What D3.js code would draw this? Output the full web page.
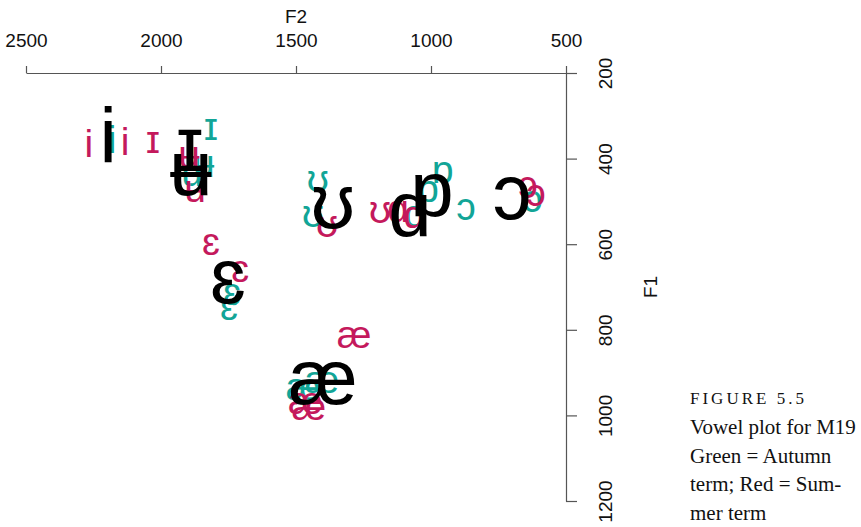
<!DOCTYPE html>
<html>
<head>
<meta charset="utf-8">
<script src="https://cdn.jsdelivr.net/npm/d3@7"></script>
<style>
  body { margin: 0; background: #fff; }
  svg { display: block; }
</style>
</head>
<body>
<div id="chart"></div>
<script>
// tick values
var f2Ticks = [2500, 2000, 1500, 1000, 500];
var f1Ticks = [200, 400, 600, 800, 1000, 1200];

// Autumn term tokens (green)
var autumnVowel = ["i", "ɪ", "ʉ", "ʉ", "ʊ", "ʊ", "ɒ", "ɒ", "ɑ", "ɔ", "ɔ", "ɛ", "ɛ", "æ", "æ"];
var autumnF2 = [2181, 1815, 1841, 1885, 1419, 1437, 956, 1011, 1059, 870, 622, 1737, 1748, 1404, 1474];
var autumnF1 = [363, 332, 419, 440, 454, 536, 433, 477, 536, 519, 501, 718, 753, 924, 940];

// Summer term tokens (red)
var summerVowel = ["i", "i", "ɪ", "ʉ", "ʉ", "ʊ", "ʊ", "ɑ", "ɑ", "ɔ", "ɔ", "ɛ", "ɛ", "æ", "æ", "æ"];
var summerF2 = [2267, 2133, 2030, 1896, 1874, 1385, 1189, 1122, 1063, 641, 611, 1815, 1707, 1285, 1465, 1452];
var summerF1 = [372, 368, 363, 398, 477, 559, 526, 524, 538, 468, 487, 601, 664, 818, 972, 985];

// means (black)
var meanVowel = ["i", "ɪ", "ʉ", "ʊ", "ɑ", "ɒ", "ɔ", "ɛ", "æ"];
var meanF2 = [2196, 1893, 1889, 1363, 1078, 996, 700, 1752, 1400];
var meanF1 = [362, 379, 437, 514, 531, 484, 491, 689, 923];

var captionLines = ["Vowel plot for M19", "Green = Autumn", "term; Red = Sum-", "mer term"];

var width = 861, height = 527;
var svg = d3.select("#chart").append("svg")
    .attr("width", width)
    .attr("height", height);

var x = d3.scaleLinear().domain([2500, 500]).range([26, 566]);
var y = d3.scaleLinear().domain([200, 1200]).range([73, 501]);

var axisCol = "#555";
var sans = "Liberation Sans, Arial, sans-serif";

// top axis (F2)
var gx = svg.append("g")
    .attr("transform", "translate(0,73)")
    .call(d3.axisTop(x).tickValues(f2Ticks).tickSize(7).tickSizeOuter(0).tickFormat(d3.format("d")));
gx.select(".domain").attr("stroke", axisCol).attr("stroke-width", 1.2);
gx.selectAll(".tick line").attr("stroke", axisCol).attr("stroke-width", 1.2);
gx.selectAll(".tick text")
    .attr("y", -26).attr("dy", 0)
    .attr("font-family", sans)
    .attr("font-size", 19).attr("fill", "#111");

svg.append("text")
    .attr("x", x(1500)).attr("y", 23)
    .attr("text-anchor", "middle")
    .attr("font-family", sans)
    .attr("font-size", 19).attr("fill", "#111")
    .text("F2");

// right axis (F1)
var gy = svg.append("g")
    .attr("transform", "translate(566,0)")
    .call(d3.axisRight(y).tickValues(f1Ticks).tickSize(11).tickSizeOuter(0).tickFormat(d3.format("d")));
gy.select(".domain").attr("stroke", axisCol).attr("stroke-width", 1.2);
gy.selectAll(".tick line").attr("stroke", axisCol).attr("stroke-width", 1.2);
gy.selectAll(".tick text")
    .attr("x", 0).attr("y", 46).attr("dy", 0)
    .attr("text-anchor", "middle")
    .attr("transform", "rotate(-90)")
    .attr("font-family", sans)
    .attr("font-size", 19).attr("fill", "#111");

svg.append("text")
    .attr("transform", "translate(657," + y(700) + ") rotate(-90)")
    .attr("text-anchor", "middle")
    .attr("font-family", sans)
    .attr("font-size", 19).attr("fill", "#111")
    .text("F1");

// vowel labels
function drawSet(vowels, f2, f1, col, fs) {
  svg.append("g").selectAll("text")
    .data(vowels)
    .enter().append("text")
      .attr("x", function(d, i) { return x(f2[i]); })
      .attr("y", function(d, i) { return y(f1[i]) + fs * 0.27; })
      .attr("text-anchor", "middle")
      .attr("font-family", "Liberation Sans, Arial, DejaVu Sans, sans-serif")
      .attr("font-size", fs)
      .attr("fill", col)
      .text(function(d) { return d; });
}

drawSet(autumnVowel, autumnF2, autumnF1, "#12a597", 39);
drawSet(summerVowel, summerF2, summerF1, "#c4195c", 39);
drawSet(meanVowel, meanF2, meanF1, "#000", 78);

// caption
var cap = svg.append("g").attr("font-family", "Liberation Serif, Times New Roman, serif");
cap.append("text")
    .attr("x", 690).attr("y", 404)
    .attr("font-size", 17).attr("letter-spacing", 3)
    .attr("fill", "#111")
    .text("FIGURE 5.5");
cap.selectAll(".line")
    .data(captionLines)
    .enter().append("text")
      .attr("class", "line")
      .attr("x", 690)
      .attr("y", function(d, i) { return 434 + i * 28.7; })
      .attr("font-size", 21)
      .attr("fill", "#111")
      .text(function(d) { return d; });
</script>
</body>
</html>
